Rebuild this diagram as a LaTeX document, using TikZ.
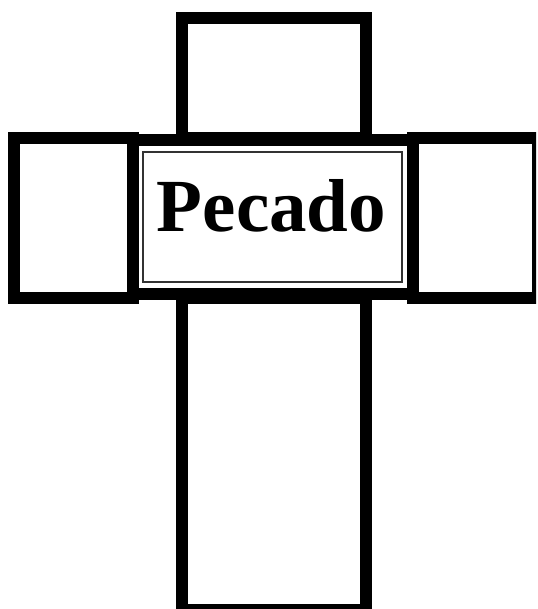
\documentclass[tikz,border=0pt]{standalone}
\usepackage{fontspec}
\setmainfont{Liberation Serif}
\usetikzlibrary{positioning}

\begin{document}
\begin{tikzpicture}[x=1pt, y=-1pt]
\tikzset{
  brazo/.style={draw=black, line width=12pt, fill=white, inner sep=0pt, outer sep=0pt},
  marco/.style={draw=black!80, line width=1.3pt, inner sep=0pt},
  titulo/.style={font=\bfseries\fontsize{75}{80}\selectfont, inner sep=0pt}
}
\useasboundingbox (0,0) rectangle (537,609);
\clip (0,0) rectangle (536,609);
% brazos de la cruz
\node[brazo, minimum width=184pt, minimum height=120pt] (arriba) at (274,78) {};
\node[brazo, minimum width=184pt, minimum height=312pt] (abajo) at (274,454) {};
\node[brazo, minimum width=119pt, minimum height=160pt] (izq) at (73.5,218) {};
\node[brazo, minimum width=125pt, minimum height=160pt] (der) at (475.5,218) {};
% centro
\node[brazo, minimum width=280pt, minimum height=153.5pt] (centro) at (273,216.75) {};
\node[marco, minimum width=259pt, minimum height=130pt] (interior) at (272.5,217) {};
\node[titulo, anchor=base] (pecado) at (271.5,232) {Pecado};
\end{tikzpicture}
\end{document}
